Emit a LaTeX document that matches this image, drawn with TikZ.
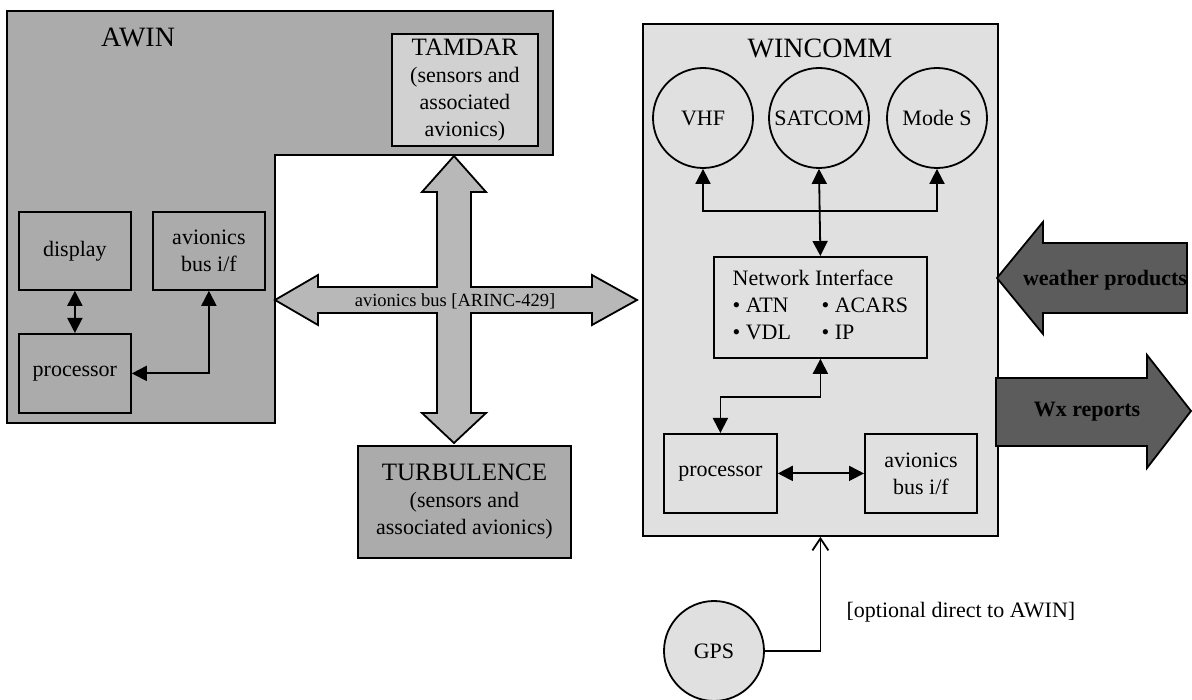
\documentclass[tikz,border=0pt]{standalone}
\usepackage{fontspec}
\setmainfont{Liberation Serif}
\usetikzlibrary{arrows.meta}
\definecolor{awinfill}{gray}{0.67}
\definecolor{lightfill}{gray}{0.88}
\definecolor{tamdarfill}{gray}{0.82}
\definecolor{crossfill}{gray}{0.72}
\definecolor{wxfill}{gray}{0.36}
\newcommand{\titlefont}{\fontsize{28}{32}\selectfont}
\newcommand{\headfont}{\fontsize{25}{27}\selectfont}
\newcommand{\bodyfont}{\fontsize{22}{27}\selectfont}
\newcommand{\busfont}{\fontsize{18.5}{22}\selectfont}
\tikzset{
  box/.style={draw, line width=1.8pt, align=center, inner sep=1pt, font=\bodyfont, anchor=north west},
  radio/.style={draw, circle, line width=1.8pt, inner sep=0pt, minimum size=100pt, font=\bodyfont},
  link/.style={line width=1.8pt, {Triangle[length=15pt,width=15pt]}-{Triangle[length=15pt,width=15pt]}},
  gpslink/.style={line width=1.8pt, -{Straight Barb[length=12pt,width=16pt,line width=1.8pt]}},
  fatarrow/.style={draw, line width=1.8pt, line join=miter},
}

\begin{document}
\begin{tikzpicture}[x=1pt, y=-1pt]
  %%%%% START %%%%%
  \useasboundingbox (0,0) rectangle (1192,700);

  % AWIN
  \draw[line width=1.8pt, fill=awinfill] (7,11) -- (553,11) -- (553,155) -- (275,155) -- (275,423) -- (7,423) -- cycle;
  \node[font=\titlefont] (awintitle) at (138,37) {AWIN};
  \node[box, fill=tamdarfill, minimum width=146pt, minimum height=112pt] (tamdar) at (391,33)
    {{\headfont TAMDAR}\\(sensors and\\associated\\avionics)};
  \node[box, fill=awinfill, minimum width=112pt, minimum height=78pt] (disp) at (18,211) {display};
  \node[box, fill=awinfill, minimum width=112pt, minimum height=78pt] (bus1) at (152,211) {avionics\\bus i/f};
  \node[box, fill=awinfill, minimum width=112pt, minimum height=79pt] (proc1) at (18,333) {processor};
  \draw[link] (disp.south) -- (proc1.north);
  \draw[link] (bus1.south) |- (proc1.east);

  % avionics bus
  \draw[fatarrow, fill=crossfill] (275,300) -- (318,275) -- (318,287) -- (437,287) -- (437,192) -- (422,192)
    -- (454,156) -- (486,192) -- (471,192) -- (471,287) -- (592,287) -- (592,275) -- (637,300)
    -- (592,325) -- (592,313) -- (471,313) -- (471,413) -- (486,413) -- (454,443) -- (422,413)
    -- (437,413) -- (437,313) -- (318,313) -- (318,325) -- cycle;
  \node[font=\busfont] (buslabel) at (455,301) {avionics bus [ARINC-429]};
  \node[box, fill=awinfill, minimum width=213pt, minimum height=112pt] (turb) at (357,445)
    {{\headfont TURBULENCE}\\(sensors and\\associated avionics)};

  % WINCOMM
  \node[box, fill=lightfill, minimum width=355pt, minimum height=512pt] (wincomm) at (642,23) {};
  \node[font=\titlefont] (wintitle) at (820,48) {WINCOMM};
  \node[radio] (vhf) at (703,118) {VHF};
  \node[radio] (satcom) at (819,118) {SATCOM};
  \node[radio] (modes) at (937,118) {Mode S};
  \node[box, minimum width=213pt, minimum height=101pt] (ni) at (713,256)
    {\begin{tabular}{@{}p{89pt}@{}l@{}}
      \multicolumn{2}{@{}l@{}}{Network Interface}\\
      \textbullet\ ATN & \textbullet\ ACARS\\
      \textbullet\ VDL & \textbullet\ IP
    \end{tabular}};
  \node[box, minimum width=113pt, minimum height=79pt] (proc2) at (663,433) {processor};
  \node[box, minimum width=112pt, minimum height=79pt] (bus2) at (864,433) {avionics\\bus i/f};
  \coordinate (split) at (819,211);
  \draw[link] (vhf.south) |- (split) -| (modes.south);
  \draw[link] (satcom.south) -- (ni.north);
  \draw[link] (ni.south) -- ++(0,38) -| (proc2.north);
  \draw[link] (proc2.east) -- (bus2.west);

  % weather links
  \draw[fatarrow, fill=wxfill] (997,278) -- (1043,222) -- (1043,243) -- (1187,243) -- (1187,313)
    -- (1043,313) -- (1043,334) -- cycle;
  \node[font=\bodyfont\bfseries] (wxin) at (1105,280) {weather products};
  \draw[fatarrow, fill=wxfill] (996,378) -- (1147,378) -- (1147,355) -- (1191,411) -- (1147,468)
    -- (1147,446) -- (996,446) -- cycle;
  \node[font=\bodyfont\bfseries] (wxout) at (1087,412) {Wx reports};

  % GPS
  \node[radio, fill=lightfill] (gps) at (714,651) {GPS};
  \draw[gpslink] (gps.east) -| node[pos=0.67, anchor=west, xshift=22pt, font=\bodyfont] (optlabel) {[optional direct to AWIN]} (wincomm.south);
  %%%%% END %%%%%
\end{tikzpicture}
\end{document}
